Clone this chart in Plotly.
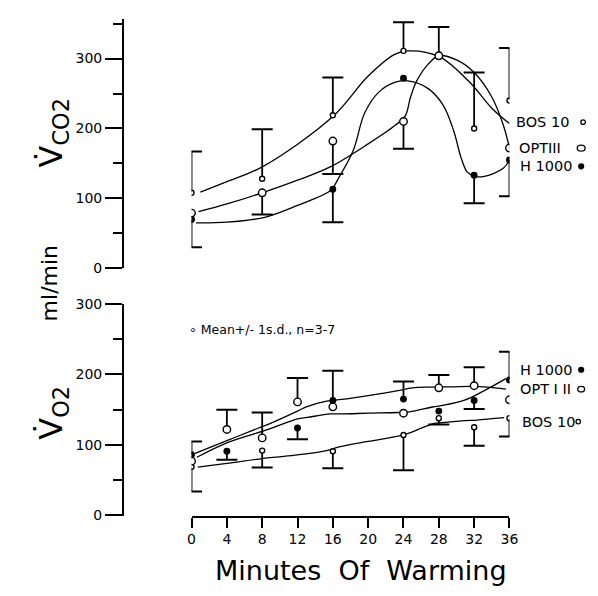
import plotly.graph_objects as go

W, H = 598, 596
def px(x): return x / W
def py(y): return 1 - y / H

FONT = "DejaVu Sans"

# ---------------- top panel : VCO2 (ml/min) ----------------
t_co2 = [0, 8, 16, 24, 28, 32, 36]
co2_bos = [108, 128, 219, 311, None, 200, 240]
co2_bos_up = [59, 71, 54, 41, 0, 80, 75]
co2_bos_dn = [0, 0, 0, 0, 0, 0, 0]
co2_opt = [79, 108, 182, 210, 304, None, 172]
co2_opt_up = [0, 0, 0, 0, 41, 0, 0]
co2_opt_dn = [0, 31, 47, 39, 0, 0, 0]
co2_h = [70, None, 113, 272, None, 133, 155]
co2_h_up = [0, 0, 0, 0, 0, 0, 0]
co2_h_dn = [40, 0, 47, 0, 0, 40, 52]

# hand-drawn fitted curves (top)
fit_co2_bos_t = [1, 4, 8, 16, 20, 23, 24.5, 28, 31.5, 34, 36]
fit_co2_bos_v = [109, 124, 145, 217, 275, 306, 311, 303, 266, 229, 207]
fit_co2_opt_t = [0.8, 4, 8, 12, 15.7, 20, 23.1, 24.2, 24.8, 25.5, 26.8, 28, 30, 32, 34, 35.3, 36]
fit_co2_opt_v = [81, 92, 108, 126, 145, 178, 205, 218, 245, 268, 292, 304, 298, 280, 245, 205, 172]
fit_co2_h_t = [0.5, 4, 8.3, 12, 15.8, 16.6, 18.3, 19.6, 21.2, 23, 24.5, 26.8, 28.5, 29.7, 30.5, 31.2, 32, 33, 35.3, 36]
fit_co2_h_v = [65, 66, 73, 90, 112, 128, 168, 222, 252, 266, 268, 257, 233, 196, 159, 138, 132, 131, 143, 155]

# ---------------- bottom panel : VO2 (ml/min) ----------------
t_o2 = [0, 4, 8, 12, 16, 24, 28, 32, 36]
o2_bos = [69, None, 92, None, 91, 114, 138, 125, 138]
o2_bos_up = [0, 0, 0, 0, 0, 0, 0, 0, 0]
o2_bos_dn = [35, 0, 24, 0, 24, 50, 9, 26, 26]
o2_opt = [77, 122, 110, 161, 154, 145, 181, 184, 164]
o2_opt_up = [0, 28, 36, 34, 0, 0, 18, 26, 0]
o2_opt_dn = [0, 0, 0, 0, 0, 0, 0, 0, 0]
o2_h = [86, 91, None, 124, 163, 165, 148, 163, 192]
o2_h_up = [19, 0, 0, 0, 42, 25, 0, 0, 40]
o2_h_dn = [0, 12, 0, 16, 0, 0, 0, 12, 0]

# hand-drawn fitted curves (bottom)
fit_o2_a_t = [0.4, 4, 7.6, 9, 12, 13, 15.3, 17, 20, 23.4, 25, 27, 29.4, 31.7, 33.5, 35.6]
fit_o2_a_v = [88, 106, 124, 131, 148, 154, 162, 164.5, 170, 177, 181, 182, 182.3, 183, 182, 179]
fit_o2_b_t = [0.6, 4.2, 8.7, 12, 13.1, 15.7, 17, 20, 23.4, 24.7, 27.3, 28.4, 31, 33, 35.6]
fit_o2_b_v = [82.5, 104, 122, 137, 139, 144, 144, 145, 146, 147, 153.8, 156, 164, 176, 194]
fit_o2_c_t = [0.7, 4, 8.9, 12, 15.3, 16.6, 20, 23.4, 24.7, 27.3, 28.4, 31, 32.3, 35.4]
fit_o2_c_v = [68.7, 74, 82, 86, 92, 97, 105, 112.4, 117, 130, 131.5, 134.5, 135.2, 138.6]

x_ticks = list(range(0, 37, 4))

fig = go.Figure()

def fit(t, v, xa, ya):
    fig.add_trace(go.Scatter(x=t, y=v, mode="lines", xaxis=xa, yaxis=ya,
                             line=dict(color="black", width=1.3, shape="spline", smoothing=1.0),
                             hoverinfo="skip", showlegend=False))

def series(t, m, up, dn, xa, ya, symbol, size, fill):
    fig.add_trace(go.Scatter(
        x=t, y=m, mode="markers", xaxis=xa, yaxis=ya, showlegend=False,
        marker=dict(symbol=symbol, size=size, color=fill, line=dict(color="black", width=1.4)),
        error_y=dict(type="data", symmetric=False, array=up, arrayminus=dn,
                     width=0, thickness=1.8, color="black")))
    cx, cy = [], []
    for ti, mi, u, d in zip(t, m, up, dn):
        if mi is None:
            continue
        if u:
            cx.append(ti); cy.append(mi + u)
        if d:
            cx.append(ti); cy.append(mi - d)
    fig.add_trace(go.Scatter(x=cx, y=cy, mode="markers", xaxis=xa, yaxis=ya, showlegend=False,
                             marker=dict(symbol="line-ew", size=15, color="black",
                                         line=dict(color="black", width=2)),
                             hoverinfo="skip"))

# top panel
fit(fit_co2_bos_t, fit_co2_bos_v, "x2", "y2")
fit(fit_co2_opt_t, fit_co2_opt_v, "x2", "y2")
fit(fit_co2_h_t, fit_co2_h_v, "x2", "y2")
series(t_co2, co2_bos, co2_bos_up, co2_bos_dn, "x2", "y2", "circle", 5, "white")
series(t_co2, co2_opt, co2_opt_up, co2_opt_dn, "x2", "y2", "circle", 7.5, "white")
series(t_co2, co2_h, co2_h_up, co2_h_dn, "x2", "y2", "circle", 5.5, "black")

# bottom panel
fit(fit_o2_a_t, fit_o2_a_v, "x", "y")
fit(fit_o2_b_t, fit_o2_b_v, "x", "y")
fit(fit_o2_c_t, fit_o2_c_v, "x", "y")
series(t_o2, o2_bos, o2_bos_up, o2_bos_dn, "x", "y", "circle", 5, "white")
series(t_o2, o2_opt, o2_opt_up, o2_opt_dn, "x", "y", "circle", 7.5, "white")
series(t_o2, o2_h, o2_h_up, o2_h_dn, "x", "y", "circle", 5.5, "black")

x_dom = [px(191.7), px(516.7)]
yaxis_common = dict(anchor="free", position=px(121.7), showline=True, linecolor="black",
                    linewidth=2, ticks="outside", ticklen=17, tickwidth=2, tickcolor="black",
                    dtick=100, tick0=0, showgrid=False, zeroline=False,
                    tickfont=dict(family=FONT, size=14, color="black"),
                    minor=dict(dtick=50, ticks="outside", ticklen=9, tickwidth=2,
                               tickcolor="black", showgrid=False))

fig.update_layout(
    width=W, height=H, margin=dict(l=0, r=0, t=0, b=0),
    paper_bgcolor="white", plot_bgcolor="white", showlegend=False,
    xaxis=dict(domain=x_dom, range=[0, 36], anchor="y", tickvals=x_ticks,
               showline=True, linecolor="black", linewidth=2, ticks="outside",
               ticklen=10, tickwidth=2, tickcolor="black", showgrid=False, zeroline=False,
               tickfont=dict(family=FONT, size=14, color="black")),
    xaxis2=dict(domain=x_dom, range=[0, 36], anchor="y2", visible=False, matches="x"),
    yaxis=dict(domain=[py(521.5), py(304)], range=[0, 300], **yaxis_common),
    yaxis2=dict(domain=[py(267.5), py(11.7)], range=[0, 356], **yaxis_common),
)

def note(text, x, y, size, anchor="left", angle=0):
    fig.add_annotation(text=text, x=px(x), y=py(y), xref="paper", yref="paper",
                       xanchor=anchor, yanchor="middle", showarrow=False, textangle=angle,
                       font=dict(family=FONT, size=size, color="black"))

# axis titles
note("V\u0307<sub>CO2</sub>", 50, 128, 32, "center", -90)
note("ml/min", 46, 283, 22, "center", -90)
note("V\u0307<sub>O2</sub>", 50, 416, 32, "center", -90)
note("Minutes\u00a0\u00a0Of\u00a0\u00a0Warming", 365, 578, 27, "center")

# note
note("\u2218 Mean+/- 1s.d., n=3-7", 187, 330.5, 12.5)

# series labels
note("BOS 10", 521, 117.3, 14.5)
note("OPTIII", 524, 144, 14.5)
note("H 1000", 525, 162.7, 14.5)
note("H 1000", 525, 371.7, 14.5)
note("OPT I II", 525, 391.7, 14.5)
note("BOS 10", 527, 425, 14.5)

def key(cx, cy, rx, ry, filled):
    fig.add_shape(type="circle", xref="paper", yref="paper",
                  x0=px(cx - rx), x1=px(cx + rx), y0=py(cy + ry), y1=py(cy - ry),
                  line=dict(color="black", width=1.3),
                  fillcolor="black" if filled else "white")

key(592, 117.3, 2.3, 2.3, False)
key(590, 144, 4, 3, False)
key(590, 162.7, 2.5, 2.5, True)
key(590, 371.7, 2.5, 2.5, True)
key(590, 391.7, 3.5, 2.8, False)
key(587, 425, 2.3, 2.3, False)

fig.write_html("out.html", config={"displayModeBar": False},
               post_script="document.documentElement.style.margin='0';"
                           "document.documentElement.style.overflow='hidden';"
                           "document.body.style.margin='0';"
                           "document.body.style.overflow='hidden';")
